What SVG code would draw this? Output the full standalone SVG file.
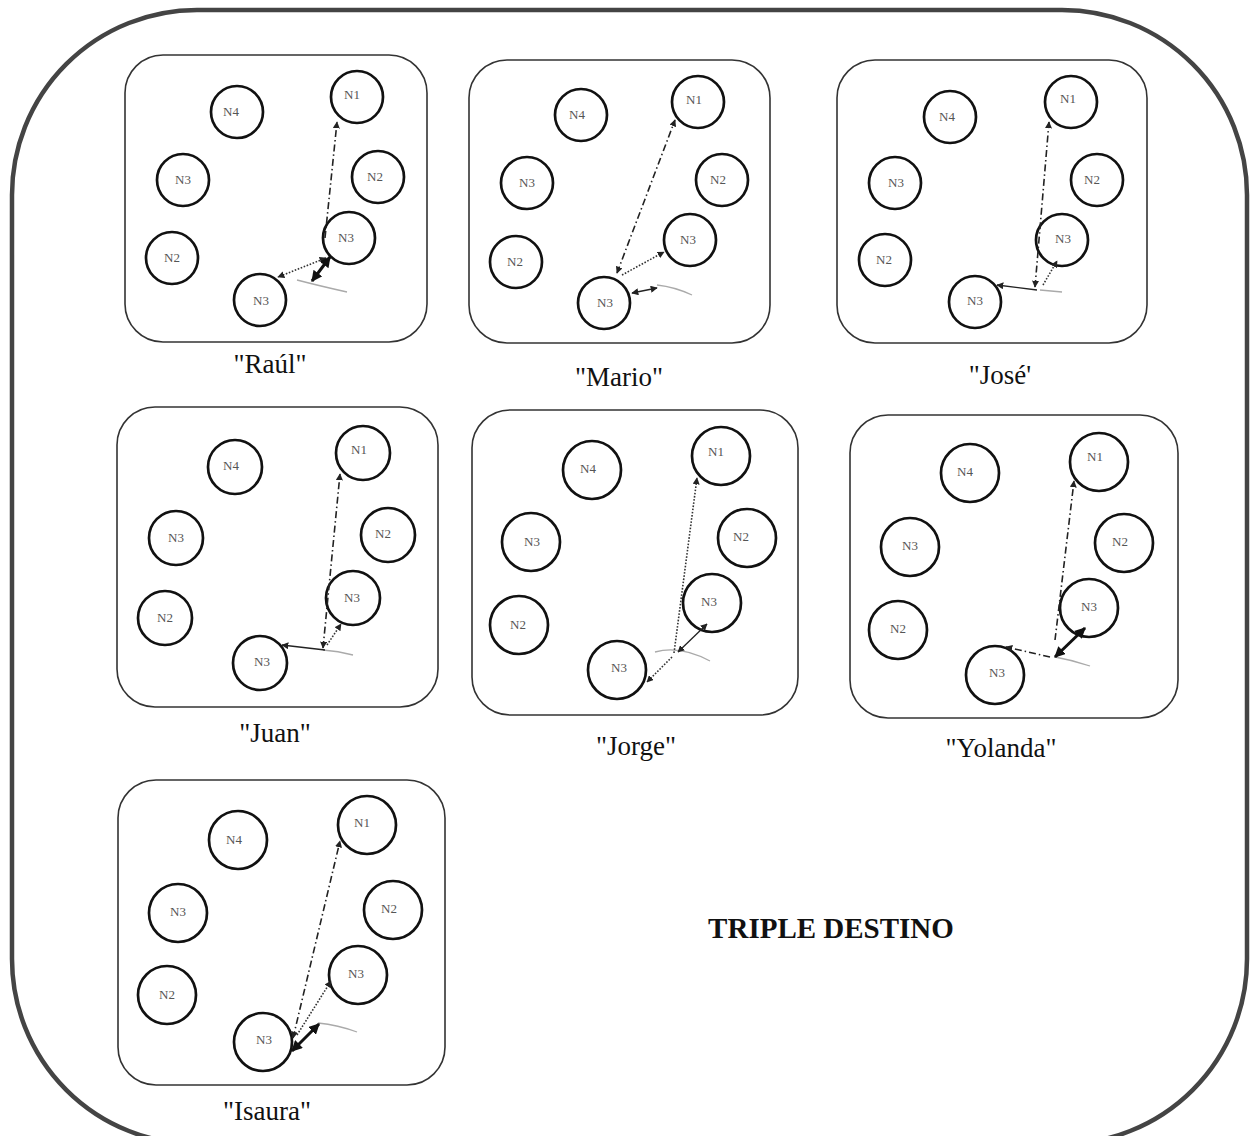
<svg xmlns="http://www.w3.org/2000/svg" width="1251" height="1136" viewBox="0 0 1251 1136">
<style>
.frame{fill:none;stroke:#444;stroke-width:4.5}
.panel{fill:#fff;stroke:#333;stroke-width:1.6}
.nd{fill:#fff;stroke:#111;stroke-width:2.7}
.nt{font-family:"Liberation Serif",serif;font-size:13px;fill:#555;text-anchor:middle}
.lbl{font-family:"Liberation Serif",serif;font-size:27px;fill:#111;text-anchor:middle}
.title{font-family:"Liberation Serif",serif;font-size:29px;font-weight:bold;fill:#111;text-anchor:middle}
.dd{fill:none;stroke:#222;stroke-width:1.6;stroke-dasharray:7 3 1.5 3}
.dt{fill:none;stroke:#333;stroke-width:1.6;stroke-dasharray:1.6 1.6}
.sl{fill:none;stroke:#222;stroke-width:1.3}
.tk{fill:none;stroke:#111;stroke-width:3}
.gc{fill:none;stroke:#aaa;stroke-width:1.3}
</style>
<defs>
<marker id="a" viewBox="0 0 10 10" refX="9" refY="5" markerWidth="7" markerHeight="7" markerUnits="userSpaceOnUse" orient="auto-start-reverse"><path d="M0,0 L10,5 L0,10 z" fill="#222"/></marker>
<marker id="b" viewBox="0 0 10 10" refX="9" refY="5" markerWidth="11" markerHeight="11" markerUnits="userSpaceOnUse" orient="auto-start-reverse"><path d="M0,0 L10,5 L0,10 z" fill="#111"/></marker>
</defs>
<rect class="frame" x="12" y="10" width="1235" height="1134" rx="185" ry="185"/>

<g id="panel-raul"><rect class="panel" x="125" y="55" width="302" height="287" rx="38"/><text class="lbl" x="270" y="373">"Raúl"</text></g>
<g id="panel-mario"><rect class="panel" x="469" y="60" width="301" height="283" rx="38"/><text class="lbl" x="619" y="386">"Mario"</text></g>
<g id="panel-jose"><rect class="panel" x="837" y="60" width="310" height="283" rx="38"/><text class="lbl" x="1000" y="384">"José'</text></g>
<g id="panel-juan"><rect class="panel" x="117" y="407" width="321" height="300" rx="38"/><text class="lbl" x="275" y="742">"Juan"</text></g>
<g id="panel-jorge"><rect class="panel" x="472" y="410" width="326" height="305" rx="38"/><text class="lbl" x="636" y="755">"Jorge"</text></g>
<g id="panel-yolanda"><rect class="panel" x="850" y="415" width="328" height="303" rx="38"/><text class="lbl" x="1001" y="757">"Yolanda"</text></g>
<g id="panel-isaura"><rect class="panel" x="118" y="780" width="327" height="305" rx="38"/><text class="lbl" x="267" y="1120">"Isaura"</text></g>
<text class="title" x="831" y="938">TRIPLE DESTINO</text>

<!-- Nodes: Raul -->
<g id="raul-n4"><circle class="nd" cx="237" cy="112" r="26"/><text class="nt" x="231" y="116">N4</text></g>
<g id="raul-n1"><circle class="nd" cx="357" cy="97" r="26"/><text class="nt" x="352" y="99">N1</text></g>
<g id="raul-n3a"><circle class="nd" cx="183" cy="180" r="26"/><text class="nt" x="183" y="184">N3</text></g>
<g id="raul-n2a"><circle class="nd" cx="378" cy="177" r="26"/><text class="nt" x="375" y="181">N2</text></g>
<g id="raul-n3b"><circle class="nd" cx="349" cy="238" r="26"/><text class="nt" x="346" y="242">N3</text></g>
<g id="raul-n2b"><circle class="nd" cx="172" cy="258" r="26"/><text class="nt" x="172" y="262">N2</text></g>
<g id="raul-n3c"><circle class="nd" cx="260" cy="300" r="26"/><text class="nt" x="261" y="305">N3</text></g>
<!-- Nodes: Mario -->
<g id="mario-n4"><circle class="nd" cx="581" cy="115" r="26"/><text class="nt" x="577" y="119">N4</text></g>
<g id="mario-n1"><circle class="nd" cx="698" cy="102" r="26"/><text class="nt" x="694" y="104">N1</text></g>
<g id="mario-n3a"><circle class="nd" cx="527" cy="183" r="26"/><text class="nt" x="527" y="187">N3</text></g>
<g id="mario-n2a"><circle class="nd" cx="722" cy="180" r="26"/><text class="nt" x="718" y="184">N2</text></g>
<g id="mario-n3b"><circle class="nd" cx="690" cy="240" r="26"/><text class="nt" x="688" y="244">N3</text></g>
<g id="mario-n2b"><circle class="nd" cx="516" cy="262" r="26"/><text class="nt" x="515" y="266">N2</text></g>
<g id="mario-n3c"><circle class="nd" cx="604" cy="303" r="26"/><text class="nt" x="605" y="307">N3</text></g>
<!-- Nodes: Jose -->
<g id="jose-n4"><circle class="nd" cx="950" cy="117" r="26"/><text class="nt" x="947" y="121">N4</text></g>
<g id="jose-n1"><circle class="nd" cx="1071" cy="102" r="26"/><text class="nt" x="1068" y="103">N1</text></g>
<g id="jose-n3a"><circle class="nd" cx="895" cy="183" r="26"/><text class="nt" x="896" y="187">N3</text></g>
<g id="jose-n2a"><circle class="nd" cx="1097" cy="180" r="26"/><text class="nt" x="1092" y="184">N2</text></g>
<g id="jose-n3b"><circle class="nd" cx="1062" cy="240" r="26"/><text class="nt" x="1063" y="243">N3</text></g>
<g id="jose-n2b"><circle class="nd" cx="885" cy="260" r="26"/><text class="nt" x="884" y="264">N2</text></g>
<g id="jose-n3c"><circle class="nd" cx="975" cy="302" r="26"/><text class="nt" x="975" y="305">N3</text></g>
<!-- Nodes: Juan -->
<g id="juan-n4"><circle class="nd" cx="235" cy="467" r="27"/><text class="nt" x="231" y="470">N4</text></g>
<g id="juan-n1"><circle class="nd" cx="363" cy="453" r="27"/><text class="nt" x="359" y="454">N1</text></g>
<g id="juan-n3a"><circle class="nd" cx="176" cy="538" r="27"/><text class="nt" x="176" y="542">N3</text></g>
<g id="juan-n2a"><circle class="nd" cx="388" cy="535" r="27"/><text class="nt" x="383" y="538">N2</text></g>
<g id="juan-n3b"><circle class="nd" cx="353" cy="598" r="27"/><text class="nt" x="352" y="602">N3</text></g>
<g id="juan-n2b"><circle class="nd" cx="165" cy="618" r="27"/><text class="nt" x="165" y="622">N2</text></g>
<g id="juan-n3c"><circle class="nd" cx="260" cy="663" r="27"/><text class="nt" x="262" y="666">N3</text></g>
<!-- Nodes: Jorge -->
<g id="jorge-n4"><circle class="nd" cx="592" cy="470" r="29"/><text class="nt" x="588" y="473">N4</text></g>
<g id="jorge-n1"><circle class="nd" cx="721" cy="456" r="29"/><text class="nt" x="716" y="456">N1</text></g>
<g id="jorge-n3a"><circle class="nd" cx="531" cy="542" r="29"/><text class="nt" x="532" y="546">N3</text></g>
<g id="jorge-n2a"><circle class="nd" cx="747" cy="538" r="29"/><text class="nt" x="741" y="541">N2</text></g>
<g id="jorge-n3b"><circle class="nd" cx="712" cy="603" r="29"/><text class="nt" x="709" y="606">N3</text></g>
<g id="jorge-n2b"><circle class="nd" cx="519" cy="625" r="29"/><text class="nt" x="518" y="629">N2</text></g>
<g id="jorge-n3c"><circle class="nd" cx="617" cy="670" r="29"/><text class="nt" x="619" y="672">N3</text></g>
<!-- Nodes: Yolanda -->
<g id="yolanda-n4"><circle class="nd" cx="970" cy="473" r="29"/><text class="nt" x="965" y="476">N4</text></g>
<g id="yolanda-n1"><circle class="nd" cx="1099" cy="462" r="29"/><text class="nt" x="1095" y="461">N1</text></g>
<g id="yolanda-n3a"><circle class="nd" cx="910" cy="547" r="29"/><text class="nt" x="910" y="550">N3</text></g>
<g id="yolanda-n2a"><circle class="nd" cx="1124" cy="543" r="29"/><text class="nt" x="1120" y="546">N2</text></g>
<g id="yolanda-n3b"><circle class="nd" cx="1089" cy="608" r="29"/><text class="nt" x="1089" y="611">N3</text></g>
<g id="yolanda-n2b"><circle class="nd" cx="898" cy="630" r="29"/><text class="nt" x="898" y="633">N2</text></g>
<g id="yolanda-n3c"><circle class="nd" cx="995" cy="675" r="29"/><text class="nt" x="997" y="677">N3</text></g>
<!-- Nodes: Isaura -->
<g id="isaura-n4"><circle class="nd" cx="238" cy="840" r="29"/><text class="nt" x="234" y="844">N4</text></g>
<g id="isaura-n1"><circle class="nd" cx="367" cy="825" r="29"/><text class="nt" x="362" y="827">N1</text></g>
<g id="isaura-n3a"><circle class="nd" cx="178" cy="913" r="29"/><text class="nt" x="178" y="916">N3</text></g>
<g id="isaura-n2a"><circle class="nd" cx="393" cy="910" r="29"/><text class="nt" x="389" y="913">N2</text></g>
<g id="isaura-n3b"><circle class="nd" cx="358" cy="975" r="29"/><text class="nt" x="356" y="978">N3</text></g>
<g id="isaura-n2b"><circle class="nd" cx="167" cy="995" r="29"/><text class="nt" x="167" y="999">N2</text></g>
<g id="isaura-n3c"><circle class="nd" cx="263" cy="1042" r="29"/><text class="nt" x="264" y="1044">N3</text></g>

<!-- Connectors -->
<g id="connectors">
<!-- Raul -->
<path class="gc" d="M297,280 Q320,286 347,292"/>
<line class="dd" x1="325" y1="238" x2="337" y2="122" marker-end="url(#a)"/>
<line class="dt" x1="326" y1="258" x2="278" y2="277" marker-start="url(#a)" marker-end="url(#a)"/>
<line class="tk" x1="330" y1="257" x2="312" y2="281" marker-start="url(#b)" marker-end="url(#b)"/>
<!-- Mario -->
<path class="gc" d="M657,285 Q675,287 692,295"/>
<line class="dd" x1="617" y1="273" x2="675" y2="120" marker-start="url(#a)" marker-end="url(#a)"/>
<line class="dt" x1="622" y1="275" x2="664" y2="252" marker-end="url(#a)"/>
<line class="sl" x1="632" y1="293" x2="657" y2="288" marker-start="url(#a)" marker-end="url(#a)"/>
<!-- Jose -->
<path class="gc" d="M1040,290 L1062,292"/>
<line class="dd" x1="1035" y1="287" x2="1049" y2="122" marker-start="url(#a)" marker-end="url(#a)"/>
<line class="dt" x1="1043" y1="285" x2="1057" y2="261" marker-end="url(#a)"/>
<line class="sl" x1="1037" y1="290" x2="997" y2="285" marker-end="url(#a)"/>
<!-- Juan -->
<path class="gc" d="M323,650 Q338,651 353,655"/>
<line class="dd" x1="323" y1="648" x2="340" y2="474" marker-start="url(#a)" marker-end="url(#a)"/>
<line class="dt" x1="327" y1="645" x2="341" y2="624" marker-end="url(#a)"/>
<line class="sl" x1="325" y1="650" x2="282" y2="645" marker-end="url(#a)"/>
<!-- Jorge -->
<path class="gc" d="M655,652 Q680,645 710,661"/>
<line class="dt" x1="674" y1="653" x2="697" y2="478" marker-end="url(#a)"/>
<line class="dt" x1="672" y1="657" x2="647" y2="682" marker-end="url(#a)"/>
<line class="sl" x1="678" y1="652" x2="707" y2="624" stroke-width="1.8" marker-start="url(#a)" marker-end="url(#a)"/>
<!-- Yolanda -->
<path class="gc" d="M1055,657 Q1072,660 1090,666"/>
<line class="dd" x1="1055" y1="640" x2="1074" y2="481" marker-end="url(#a)"/>
<line class="dd" x1="1050" y1="657" x2="1006" y2="647" marker-end="url(#a)"/>
<line class="tk" x1="1055" y1="657" x2="1085" y2="628" marker-start="url(#b)" marker-end="url(#b)"/>
<!-- Isaura -->
<path class="gc" d="M318,1023 Q338,1025 357,1032"/>
<line class="dd" x1="293" y1="1038" x2="340" y2="841" marker-start="url(#a)" marker-end="url(#a)"/>
<line class="dt" x1="297" y1="1035" x2="331" y2="981" marker-end="url(#a)"/>
<line class="tk" x1="292" y1="1051" x2="319" y2="1024" marker-start="url(#b)" marker-end="url(#b)"/>
</g>
</svg>
